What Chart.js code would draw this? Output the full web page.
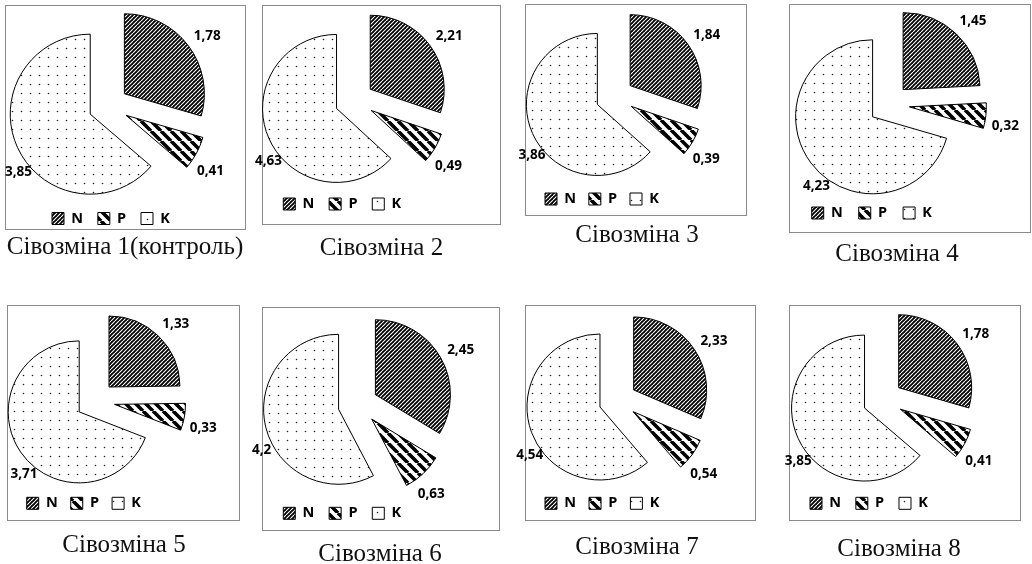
<!DOCTYPE html>
<html><head><meta charset="utf-8">
<script src="https://cdn.jsdelivr.net/npm/chart.js@4.4.1/dist/chart.umd.min.js"></script>
<style>
html,body{margin:0;padding:0;background:#fff;}
body{width:1032px;height:564px;position:relative;overflow:hidden;}
.box{position:absolute;border:1px solid #8a8a8a;box-sizing:border-box;}
canvas{position:absolute;}
.cap{position:absolute;font-family:"Liberation Serif","Times New Roman",serif;font-size:25px;color:#111;white-space:nowrap;transform:translate(-50%,-50%);line-height:1;}
</style></head><body>
<script>
// ---- data ----
const categories = ['N', 'P', 'K'];
const captions = ['Сівозміна 1(контроль)', 'Сівозміна 2', 'Сівозміна 3', 'Сівозміна 4',
                  'Сівозміна 5', 'Сівозміна 6', 'Сівозміна 7', 'Сівозміна 8'];
const rotation1 = [1.78, 0.41, 3.85];
const rotation2 = [2.21, 0.49, 4.63];
const rotation3 = [1.84, 0.39, 3.86];
const rotation4 = [1.45, 0.32, 4.23];
const rotation5 = [1.33, 0.33, 3.71];
const rotation6 = [2.45, 0.63, 4.2];
const rotation7 = [2.33, 0.54, 4.54];
const rotation8 = [1.78, 0.41, 3.85];
const series = [rotation1, rotation2, rotation3, rotation4, rotation5, rotation6, rotation7, rotation8];

// ---- layout / style (positions only) ----
const panelLayout = [
  {box:[5,5,246,230],        c:[108.4,105.8], r:80, d:20,   leg:[52,218.5,14.8],  cap:[125,245]},
  {box:[262,5,501,225],      c:[354.4,100.6], r:74, d:19.5, leg:[283.3,204,14.8], cap:[381.5,246]},
  {box:[525,4,747,216],      c:[614.7,96.7],  r:71, d:19,   leg:[545,199,12.8],   cap:[637,233]},
  {box:[789,4,1031,233],     c:[889,104.5],   r:77, d:20.5, leg:[811.7,213,16],   cap:[897,252]},
  {box:[7,305,240,521],      c:[95.3,400.9],  r:71, d:19.5, leg:[26.7,503.3,13],  cap:[124,543]},
  {box:[262,307,500,531],    c:[358,404.5],   r:75, d:20,   leg:[283.3,513.3,14.8],cap:[380,552]},
  {box:[525,305,756,521],    c:[617.8,400.4], r:73, d:19,   leg:[545,503.3,13],   cap:[637,545]},
  {box:[789,305,1021,521],   c:[882.7,399.7], r:73, d:20,   leg:[810,503.3,14.8], cap:[899,547]}
];
const labelShift = [{a:2, dr:21}, {a:5, dr:21}, {a:-14, dr:12}];
const FS = 13.5;   // value labels
const LFS = 14.5;  // legend
const FONT = '"Open Sans"';
const M = 24;

function tile(s, draw){
  const c = document.createElement('canvas'); c.width = c.height = s;
  const g = c.getContext('2d'); draw(g, s);
  return g.createPattern(c, 'repeat');
}
const patN = tile(4, (g, s) => {
  g.fillStyle = '#000'; g.fillRect(0,0,s,s);
  g.strokeStyle = '#fff'; g.lineWidth = 1.1; g.beginPath();
  for (const k of [-s, 0, s]) { g.moveTo(k, s); g.lineTo(k + s, 0); }
  g.stroke();
});
const patP = tile(10, (g, s) => {
  g.fillStyle = '#fff'; g.fillRect(0,0,s,s);
  g.strokeStyle = '#000'; g.lineWidth = 3.6; g.beginPath();
  for (const k of [-s, 0, s]) { g.moveTo(k, 0); g.lineTo(k + s, s); }
  g.stroke();
});
const patK = tile(9, (g, s) => {
  g.fillStyle = '#fff'; g.fillRect(0,0,s,s);
  g.fillStyle = '#222'; g.beginPath(); g.arc(4.5, 4.5, 0.8, 0, Math.PI*2); g.fill();
});
const fills = [patN, patP, patK];

// explodes each slice along its bisector and places the pie centre
const explodePlugin = {
  id: 'explode',
  afterDatasetUpdate(chart, args, opts) {
    const d = opts.distance || 0;
    const a = chart.chartArea;
    const sx = opts.cx - (a.left + a.right) / 2;
    const sy = opts.cy - (a.top + a.bottom) / 2;
    args.meta.data.forEach(arc => {
      const mid = (arc.startAngle + arc.endAngle) / 2;
      arc.x += sx + Math.cos(mid) * d;
      arc.y += sy + Math.sin(mid) * d;
    });
  }
};
const valueLabels = {
  id: 'valueLabels',
  afterDatasetsDraw(chart) {
    const ctx = chart.ctx;
    const meta = chart.getDatasetMeta(0);
    const data = chart.data.datasets[0].data;
    ctx.save();
    ctx.font = 'bold ' + FS + 'px ' + FONT;
    ctx.fillStyle = '#000';
    ctx.textAlign = 'center'; ctx.textBaseline = 'middle';
    meta.data.forEach((arc, i) => {
      const s = labelShift[i];
      const mid = (arc.startAngle + arc.endAngle) / 2 + s.a * Math.PI / 180;
      const dist = arc.outerRadius + s.dr;
      ctx.fillText(String(data[i]).replace('.', ','), arc.x + Math.cos(mid) * dist, arc.y + Math.sin(mid) * dist);
    });
    ctx.restore();
  }
};

panelLayout.forEach((p, i) => {
  const [bl, bt, br, bb] = p.box;
  const box = document.createElement('div');
  box.className = 'box';
  Object.assign(box.style, {left: bl+'px', top: bt+'px', width: (br-bl)+'px', height: (bb-bt)+'px'});
  document.body.appendChild(box);

  const X0 = Math.round(bl - M), Y0 = Math.round(bt - M);
  const W = Math.round(br - bl + 2*M), H = Math.round(bb - bt + 2*M);
  const cv = document.createElement('canvas');
  cv.width = W; cv.height = H;
  Object.assign(cv.style, {left: X0+'px', top: Y0+'px', width: W+'px', height: H+'px'});
  document.body.appendChild(cv);

  const lp = p.leg[2];
  const pl = p.leg[0] - X0 - lp;
  const pr = M - 6;
  const pb = H - (p.leg[1] - Y0) - (LFS / 2 + 10);
  const pt = M;

  new Chart(cv, {
    type: 'pie',
    data: {
      labels: categories,
      datasets: [{
        data: series[i],
        backgroundColor: fills,
        borderColor: '#000',
        borderWidth: 1,
        radius: p.r,
        hoverOffset: 0
      }]
    },
    options: {
      responsive: false,
      animation: false,
      events: [],
      clip: false,
      layout: {padding: {left: pl, right: pr, top: pt, bottom: pb}},
      plugins: {
        explode: {distance: p.d, cx: p.c[0] - X0, cy: p.c[1] - Y0},
        tooltip: {enabled: false},
        legend: {
          position: 'bottom',
          align: 'start',
          labels: {
            boxWidth: 12, boxHeight: 12, padding: lp, color: '#000',
            font: {family: 'Open Sans', weight: 'bold', size: LFS}
          }
        }
      }
    },
    plugins: [explodePlugin, valueLabels]
  });

  const cap = document.createElement('div');
  cap.className = 'cap';
  cap.textContent = captions[i];
  Object.assign(cap.style, {left: p.cap[0]+'px', top: p.cap[1]+'px'});
  document.body.appendChild(cap);
});
</script>
</body></html>
